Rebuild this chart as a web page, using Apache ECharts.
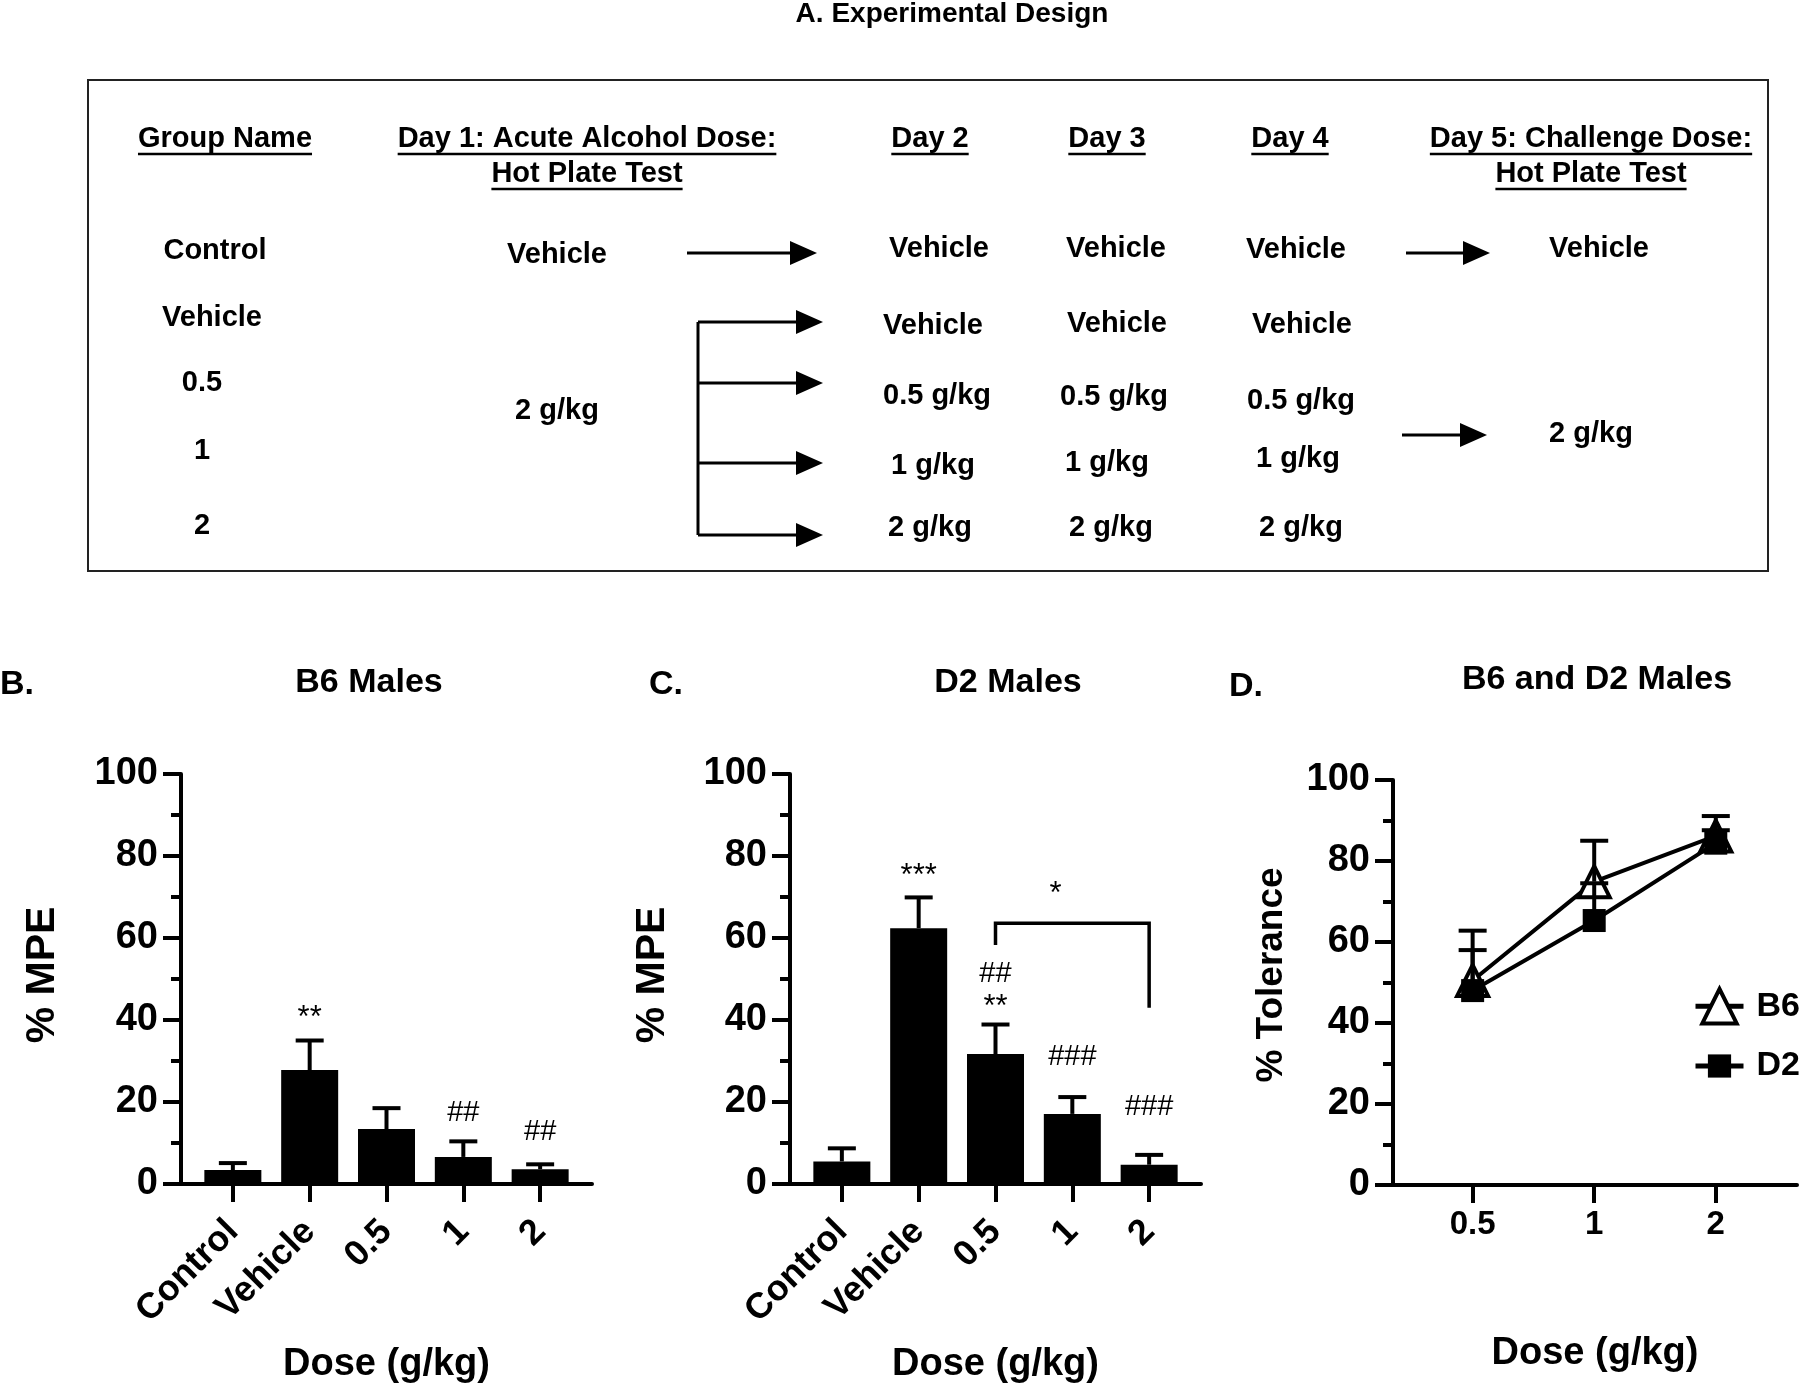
<!DOCTYPE html>
<html>
<head>
<meta charset="utf-8">
<script src="https://cdn.jsdelivr.net/npm/echarts@6/dist/echarts.min.js"></script>
<style>
  html, body { margin: 0; padding: 0; background: #fff; }
  #chart { width: 1800px; height: 1388px; }
</style>
</head>
<body>
<div id="chart"></div>
<script>
var FONT = "'Liberation Sans', Arial, Helvetica, sans-serif";

// ---- data: panels B and C (% MPE, mean and SEM) ----
var doseGroups = ["Control", "Vehicle", "0.5", "1", "2"];
var b6Mpe = [3.4, 27.8, 13.4, 6.6, 3.6];
var b6MpeSem = [1.7, 7.2, 5.1, 3.8, 1.2];
var d2Mpe = [5.5, 62.4, 31.7, 17.1, 4.7];
var d2MpeSem = [3.2, 7.5, 7.2, 4.1, 2.4];

// ---- data: panel D (% tolerance) ----
var toleranceDoses = ["0.5", "1", "2"];
var b6Tolerance = [50.5, 74.9, 86.2];
var b6ToleranceSem = [12.3, 10.1, 4.9];
var d2Tolerance = [48, 65.3, 84.4];
var d2ToleranceSem = [10, 9.2, 3.2];

// significance marks: [group index, y value, text]
var b6Marks = [[1, 42.3, "**"], [3, 17.3, "##"], [4, 12.6, "##"]];
var d2Marks = [[1, 77, "***"], [2, 51.3, "##"], [2, 44.9, "**"], [3, 30.9, "###"], [4, 18.9, "###"], [2.78, 72.5, "*"]];
// bracket 0.5 vs 2: [from, to, top, left end, right end]
var d2Bracket = [2, 4, 63.6, 58.3, 43];

// ---- panel A: experimental design table ----
var designHeaders = [
  ["Group Name"],
  ["Day 1: Acute Alcohol Dose:", "Hot Plate Test"],
  ["Day 2"], ["Day 3"], ["Day 4"],
  ["Day 5: Challenge Dose:", "Hot Plate Test"]
];
var groupNames = ["Control", "Vehicle", "0.5", "1", "2"];
var day1Doses = ["Vehicle", "2 g/kg"];
var day2Doses = ["Vehicle", "Vehicle", "0.5 g/kg", "1 g/kg", "2 g/kg"];
var day3Doses = ["Vehicle", "Vehicle", "0.5 g/kg", "1 g/kg", "2 g/kg"];
var day4Doses = ["Vehicle", "Vehicle", "0.5 g/kg", "1 g/kg", "2 g/kg"];
var day5Doses = ["Vehicle", "2 g/kg"];

// layout of the design table (pixels)
var headerX = [225, 587, 930, 1107, 1290, 1591];
var headerY = [139, 174];
var groupX = [215, 212, 202, 202, 202];
var groupY = [251, 318, 383, 451, 526];
var day1Pos = [[557, 255], [557, 411]];
var day2Pos = [[939, 249], [933, 326], [937, 396], [933, 466], [930, 528]];
var day3Pos = [[1116, 249], [1117, 324], [1114, 397], [1107, 463], [1111, 528]];
var day4Pos = [[1296, 250], [1302, 325], [1301, 401], [1298, 459], [1301, 528]];
var day5Pos = [[1599, 249], [1591, 434]];

var measureCtx = document.createElement('canvas').getContext('2d');
function textWidth(str, font) {
  measureCtx.font = font;
  return measureCtx.measureText(str).width;
}

var graphics = [];
function addText(str, x, y, size, opts) {
  opts = opts || {};
  var font = (opts.weight || 'bold') + ' ' + size + 'px ' + FONT;
  graphics.push({
    type: 'text', x: x, y: y, rotation: opts.rotation || 0,
    style: {
      text: str, font: font, fill: '#000',
      align: opts.align || 'center', verticalAlign: 'middle',
      textAlign: opts.align || 'center', textVerticalAlign: 'middle'
    }
  });
  if (opts.underline) {
    var w = textWidth(str, font);
    graphics.push({
      type: 'line',
      shape: { x1: x - w / 2, y1: y + 15, x2: x + w / 2, y2: y + 15 },
      style: { stroke: '#000', lineWidth: 2.5 }
    });
  }
}
function addArrow(x1, x2, y) {
  graphics.push({
    type: 'line', shape: { x1: x1, y1: y, x2: x2 - 24, y2: y },
    style: { stroke: '#000', lineWidth: 3 }
  });
  graphics.push({
    type: 'polygon', shape: { points: [[x2 - 27, y - 12], [x2, y], [x2 - 27, y + 12]] },
    style: { fill: '#000' }
  });
}

// panel A
addText("A. Experimental Design", 952, 14, 28);
graphics.push({
  type: 'rect', shape: { x: 88, y: 80, width: 1680, height: 491 },
  style: { fill: 'none', stroke: '#222', lineWidth: 2 }
});
designHeaders.forEach(function (lines, c) {
  lines.forEach(function (s, r) { addText(s, headerX[c], headerY[r], 29, { underline: true }); });
});
groupNames.forEach(function (s, i) { addText(s, groupX[i], groupY[i], 29); });
day1Doses.forEach(function (s, i) { addText(s, day1Pos[i][0], day1Pos[i][1], 29); });
day2Doses.forEach(function (s, i) { addText(s, day2Pos[i][0], day2Pos[i][1], 29); });
day3Doses.forEach(function (s, i) { addText(s, day3Pos[i][0], day3Pos[i][1], 29); });
day4Doses.forEach(function (s, i) { addText(s, day4Pos[i][0], day4Pos[i][1], 29); });
day5Doses.forEach(function (s, i) { addText(s, day5Pos[i][0], day5Pos[i][1], 29); });
addArrow(687, 817, 253);
addArrow(1406, 1490, 253);
addArrow(1402, 1487, 435);
graphics.push({
  type: 'line', shape: { x1: 698, y1: 322, x2: 698, y2: 535 },
  style: { stroke: '#000', lineWidth: 3 }
});
[322, 383, 463, 535].forEach(function (y) { addArrow(698, 823, y); });

// panel titles, letters, y names
addText("B.", 0, 685, 34, { align: 'left' });
addText("C.", 649, 685, 34, { align: 'left' });
addText("D.", 1229, 687, 34, { align: 'left' });
addText("B6 Males", 369, 683, 34);
addText("D2 Males", 1008, 683, 34);
addText("B6 and D2 Males", 1597, 680, 34);
addText("% MPE", 43, 975, 41, { rotation: Math.PI / 2 });
addText("% MPE", 653, 975, 41, { rotation: Math.PI / 2 });
addText("% Tolerance", 1272, 975, 37, { rotation: Math.PI / 2 });

// ---- axes helpers ----
function yAxisFor(gi) {
  return {
    type: 'value', gridIndex: gi, min: 0, max: 100, interval: 20,
    axisLine: { show: true, onZero: false, lineStyle: { color: '#000', width: 4 } },
    axisTick: { show: true, length: 18, lineStyle: { color: '#000', width: 4 } },
    minorTick: { show: true, splitNumber: 2, length: 10, lineStyle: { color: '#000', width: 4 } },
    splitLine: { show: false },
    axisLabel: { color: '#000', fontFamily: FONT, fontWeight: 'bold', fontSize: 38, margin: 23 }
  };
}
function xAxisFor(gi, labels, min, max, rotate, labelSize, margin, nameGap) {
  var idx = labels.map(function (l, i) { return i; });
  return {
    type: 'value', gridIndex: gi, min: min, max: max,
    axisLine: { show: true, lineStyle: { color: '#000', width: 4 } },
    axisTick: { show: true, customValues: idx, length: 18, lineStyle: { color: '#000', width: 4 } },
    splitLine: { show: false },
    axisLabel: {
      customValues: idx, rotate: rotate, margin: margin,
      formatter: function (v) { return labels[Math.round(v)]; },
      color: '#000', fontFamily: FONT, fontWeight: 'bold', fontSize: labelSize
    },
    name: 'Dose (g/kg)', nameLocation: 'middle', nameGap: nameGap,
    nameTextStyle: { color: '#000', fontFamily: FONT, fontWeight: 'bold', fontSize: 38 }
  };
}

function errorSeries(gi, means, sems, capHalf, z) {
  return {
    type: 'custom', xAxisIndex: gi, yAxisIndex: gi, z: z,
    data: means.map(function (m, i) { return [i, m, m + sems[i]]; }),
    encode: { x: 0, y: [1, 2] },
    renderItem: function (params, api) {
      var base = api.coord([api.value(0), api.value(1)]);
      var top = api.coord([api.value(0), api.value(2)]);
      var st = { stroke: '#000', lineWidth: 4 };
      return {
        type: 'group', children: [
          { type: 'line', shape: { x1: base[0], y1: base[1], x2: top[0], y2: top[1] }, style: st },
          { type: 'line', shape: { x1: top[0] - capHalf, y1: top[1], x2: top[0] + capHalf, y2: top[1] }, style: st }
        ]
      };
    }
  };
}

function markSeries(gi, marks) {
  return {
    type: 'custom', xAxisIndex: gi, yAxisIndex: gi, z: 5,
    data: marks.map(function (m) { return [m[0], m[1]]; }),
    renderItem: function (params, api) {
      var m = marks[params.dataIndex];
      var p = api.coord([api.value(0), api.value(1)]);
      var star = m[2].indexOf('*') >= 0;
      var size = star ? 31 : 29;
      return {
        type: 'text', x: p[0], y: p[1] + (star ? 8 : 0),
        style: {
          text: m[2], font: 'normal ' + size + 'px ' + FONT, fill: '#000',
          align: 'center', verticalAlign: 'middle', textAlign: 'center', textVerticalAlign: 'middle'
        }
      };
    }
  };
}

function barSeries(gi, values) {
  return {
    type: 'bar', xAxisIndex: gi, yAxisIndex: gi, z: 2, barWidth: 57,
    itemStyle: { color: '#000' },
    data: values.map(function (v, i) { return [i, v]; })
  };
}

var legendText = { color: '#000', fontFamily: FONT, fontWeight: 'bold', fontSize: 34, padding: [0, 0, 0, 8] };

var option = {
  animation: false,
  backgroundColor: '#fff',
  graphic: { elements: graphics },
  grid: [
    { left: 181, top: 774, width: 411, height: 410, outerBoundsMode: 'none' },
    { left: 790, top: 774, width: 411, height: 410, outerBoundsMode: 'none' },
    { left: 1393, top: 780, width: 404, height: 405, outerBoundsMode: 'none' }
  ],
  xAxis: [
    xAxisFor(0, doseGroups, -0.675, 4.675, 45, 36, 42, 162),
    xAxisFor(1, doseGroups, -0.675, 4.675, 45, 36, 42, 162),
    xAxisFor(2, toleranceDoses, -0.655, 2.668, 0, 33, 23, 150)
  ],
  yAxis: [yAxisFor(0), yAxisFor(1), yAxisFor(2)],
  legend: [
    {
      data: ['B6'], left: 1688, top: 982, itemWidth: 48, itemHeight: 43,
      lineStyle: { color: '#000', width: 5 },
      itemStyle: { color: '#fff', borderColor: '#000', borderWidth: 4 },
      textStyle: legendText
    },
    {
      data: ['D2'], left: 1688, top: 1044, itemWidth: 48, itemHeight: 29,
      lineStyle: { color: '#000', width: 5 },
      itemStyle: { color: '#000', borderWidth: 0 },
      textStyle: legendText
    }
  ],
  series: [
    barSeries(0, b6Mpe),
    errorSeries(0, b6Mpe, b6MpeSem, 14, 3),
    markSeries(0, b6Marks),
    barSeries(1, d2Mpe),
    errorSeries(1, d2Mpe, d2MpeSem, 14, 3),
    markSeries(1, d2Marks),
    {
      type: 'custom', xAxisIndex: 1, yAxisIndex: 1, z: 5,
      data: [d2Bracket],
      renderItem: function (params, api) {
        var b = d2Bracket;
        var p1 = api.coord([b[0], b[3]]), p2 = api.coord([b[0], b[2]]);
        var p3 = api.coord([b[1], b[2]]), p4 = api.coord([b[1], b[4]]);
        return {
          type: 'polyline', shape: { points: [p1, p2, p3, p4] },
          style: { stroke: '#000', lineWidth: 3.5, fill: 'none' }
        };
      }
    },
    {
      name: 'B6', type: 'line', xAxisIndex: 2, yAxisIndex: 2, z: 2,
      symbol: 'triangle', symbolSize: 31,
      itemStyle: { color: '#fff', borderColor: '#000', borderWidth: 4 },
      lineStyle: { color: '#000', width: 4 },
      data: b6Tolerance.map(function (v, i) { return [i, v]; })
    },
    errorSeries(2, b6Tolerance, b6ToleranceSem, 14, 3),
    errorSeries(2, d2Tolerance, d2ToleranceSem, 14, 3),
    {
      name: 'D2', type: 'line', xAxisIndex: 2, yAxisIndex: 2, z: 4,
      symbol: 'rect', symbolSize: 23,
      itemStyle: { color: '#000', borderColor: '#000', borderWidth: 0 },
      lineStyle: { color: '#000', width: 4 },
      data: d2Tolerance.map(function (v, i) { return [i, v]; })
    }
  ]
};

var chart = echarts.init(document.getElementById('chart'));
chart.setOption(option);
</script>
</body>
</html>
